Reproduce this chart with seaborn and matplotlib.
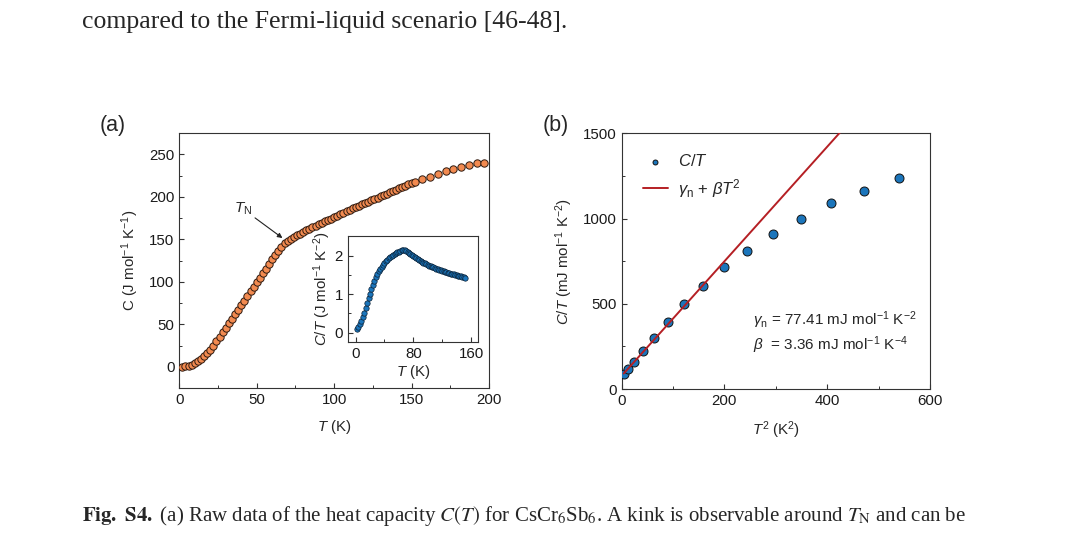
import numpy as np
import pandas as pd
import matplotlib
matplotlib.use("Agg")
import matplotlib.pyplot as plt
import seaborn as sns
from matplotlib.ticker import MultipleLocator

# ---- datos del panel (a): C(T) ----
t_dense = [2, 4, 6, 8, 10, 12, 14, 16, 18, 20, 22, 24, 26, 28, 30, 32, 34, 36, 38, 40,
           42, 44, 46, 48, 50, 52, 54, 56, 58, 60, 62, 64, 66, 68, 70, 72, 74, 76, 78, 80,
           82, 84, 86, 88, 90, 92, 94, 96, 98, 100, 102, 104, 106, 108, 110, 112, 114, 116,
           118, 120, 122, 124, 126, 128, 130, 132, 134, 136, 138, 140, 142, 144, 146, 148,
           150, 152]
c_dense = [0.2, 0.6, 1.3, 2.4, 4.0, 6.2, 9.0, 12.3, 16.0, 20.3, 25.0, 30.0, 35.2, 40.4,
           45.7, 51.0, 56.3, 61.7, 67.1, 72.5, 77.9, 83.3, 88.7, 94.1, 99.5, 104.9, 110.3,
           115.7, 121.1, 126.5, 131.8, 136.8, 141.4, 145.3, 148.3, 150.5, 152.6, 154.6,
           156.6, 158.6, 160.5, 162.3, 164.1, 165.9, 167.7, 169.4, 171.1, 172.8, 174.5,
           176.2, 177.9, 179.6, 181.3, 183.0, 184.7, 186.4, 188.0, 189.6, 191.2, 192.8,
           194.4, 196.0, 197.6, 199.2, 200.8, 202.4, 204.0, 205.6, 207.2, 208.7, 210.2,
           211.7, 213.2, 214.7, 216.2, 217.6]
t_sparse = [157, 162, 167, 172, 177, 182, 187, 192, 197]
c_sparse = [221.0, 224.0, 227.0, 230.0, 232.6, 235.2, 238.0, 239.8, 240.5]

# ---- datos del panel (b): C/T vs T^2 ----
t2_b = [4.5, 11.6, 24.5, 42, 63.5, 90.8, 121.9, 158.2, 199, 244.5, 293.8, 348.4, 407.4, 471, 539]
ct_b = [86, 115, 160, 223, 297, 391, 497, 604, 714, 808, 909, 999, 1089, 1161, 1240]
gamma_n = 77.41   # mJ mol-1 K-2
beta = 3.36       # mJ mol-1 K-4
t2_fit = [4, 430]

df_a = pd.DataFrame({"T": t_dense + t_sparse, "C": c_dense + c_sparse})
df_in = pd.DataFrame({"T": t_dense, "CT": np.array(c_dense) / np.array(t_dense)})
df_b = pd.DataFrame({"T2": t2_b, "CT": ct_b})
df_fit = pd.DataFrame({"T2": t2_fit, "CT": [gamma_n + beta * x for x in t2_fit]})

# ---- estilo ----
sns.set_style("ticks")
plt.rcParams["font.family"] = ["Liberation Sans", "DejaVu Sans"]
plt.rcParams["mathtext.fontset"] = "custom"
plt.rcParams["mathtext.rm"] = "Liberation Sans"
plt.rcParams["mathtext.it"] = "Liberation Sans:italic"
plt.rcParams["mathtext.bf"] = "Liberation Sans:bold"
plt.rcParams["axes.edgecolor"] = "#333333"
plt.rcParams["axes.linewidth"] = 0.8
for eje in ("xtick", "ytick"):
    plt.rcParams[f"{eje}.direction"] = "in"
    plt.rcParams[f"{eje}.major.size"] = 3.5
    plt.rcParams[f"{eje}.minor.size"] = 2.2
    plt.rcParams[f"{eje}.major.width"] = 0.8
    plt.rcParams[f"{eje}.minor.width"] = 0.7
    plt.rcParams[f"{eje}.color"] = "#333333"
    plt.rcParams[f"{eje}.labelcolor"] = "#1a1a1a"
    plt.rcParams[f"{eje}.labelsize"] = 10.8

naranja = "#F28A50"
azul = "#1B75BB"
rojo = "#B51F24"
fs_label = 10.8

fig = plt.figure(figsize=(10.8, 5.48), dpi=100)

# texto de la página
fig.text(82 / 1080, 1 - 22 / 548, "compared to the Fermi-liquid scenario [46-48].",
         family="Liberation Serif", fontsize=18.5, va="center", ha="left")
fig.text(82 / 1080, 1 - 516 / 548,
         r"$\mathbf{Fig.}$ $\mathbf{S4.}$ (a) Raw data of the heat capacity $C(T)$ for "
         r"CsCr$_6$Sb$_6$. A kink is observable around $T_\mathrm{N}$ and can be",
         family="Liberation Serif", math_fontfamily="stix", fontsize=15,
         va="center", ha="left")

# ---- panel (a) ----
ax1 = fig.add_axes([0.166, 0.292, 0.2868, 0.4648])
sns.scatterplot(data=df_a, x="T", y="C", ax=ax1, s=28, color=naranja,
                edgecolor="#2e1a10", linewidth=0.7, zorder=3)
ax1.set_xlim(0, 200)
ax1.set_ylim(-25, 275)
ax1.xaxis.set_major_locator(MultipleLocator(50))
ax1.xaxis.set_minor_locator(MultipleLocator(25))
ax1.yaxis.set_minor_locator(MultipleLocator(25))
ax1.set_yticks([0, 50, 100, 150, 200, 250])
ax1.set_xlabel(r"$T$ (K)", fontsize=fs_label, labelpad=8)
ax1.set_ylabel(r"C (J mol$^{-1}$ K$^{-1}$)", fontsize=fs_label, labelpad=6)
ax1.annotate(r"$T_\mathrm{N}$", xy=(66.6, 151.6), xytext=(46.8, 176.4),
             arrowprops=dict(arrowstyle="-|>", color="#222222", lw=0.8,
                             mutation_scale=7, shrinkA=0, shrinkB=0),
             fontsize=11, ha="right", va="bottom")
fig.text(113 / 1080, 1 - 125 / 548, "(a)", fontsize=15.5, ha="center", va="center")

# inset
ax_in = fig.add_axes([0.3219, 0.3754, 0.1209, 0.1945])
sns.scatterplot(data=df_in, x="T", y="CT", ax=ax_in, s=15, color=azul,
                edgecolor="#0a1f33", linewidth=0.5, zorder=3)
ax_in.set_xlim(-11, 170)
ax_in.set_ylim(-0.25, 2.52)
ax_in.xaxis.set_major_locator(MultipleLocator(80))
ax_in.xaxis.set_minor_locator(MultipleLocator(40))
ax_in.yaxis.set_major_locator(MultipleLocator(1))
ax_in.yaxis.set_minor_locator(MultipleLocator(0.5))
ax_in.set_xlabel(r"$T$ (K)", fontsize=fs_label, labelpad=1)
ax_in.set_ylabel(r"$C/T$ (J mol$^{-1}$ K$^{-2}$)", fontsize=fs_label, labelpad=1)

# ---- panel (b) ----
ax2 = fig.add_axes([0.5756, 0.2901, 0.2855, 0.4666])
sns.scatterplot(data=df_b, x="T2", y="CT", ax=ax2, s=42, color=azul,
                edgecolor="#111111", linewidth=0.7, zorder=3, label=r"$C/T$")
sns.lineplot(data=df_fit, x="T2", y="CT", ax=ax2, color=rojo, linewidth=1.4,
             zorder=4, label=r"$\gamma_\mathrm{n}$ + $\beta T^2$")
ax2.set_xlim(0, 600)
ax2.set_ylim(0, 1500)
ax2.xaxis.set_major_locator(MultipleLocator(200))
ax2.xaxis.set_minor_locator(MultipleLocator(100))
ax2.yaxis.set_major_locator(MultipleLocator(500))
ax2.yaxis.set_minor_locator(MultipleLocator(250))
ax2.set_xlabel(r"$T^2$ (K$^2$)", fontsize=fs_label, labelpad=8)
ax2.set_ylabel(r"$C/T$ (mJ mol$^{-1}$ K$^{-2}$)", fontsize=fs_label, labelpad=6)
ax2.legend(loc="upper left", bbox_to_anchor=(0.02, 0.98), frameon=False,
           fontsize=12, handlelength=1.5, markerscale=0.55,
           handletextpad=0.6, labelspacing=0.45)
ax2.text(256, 405, r"$\gamma_\mathrm{n}$ = 77.41 mJ mol$^{-1}$ K$^{-2}$",
         fontsize=11, ha="left", va="center")
ax2.text(256, 258, r"$\beta$  = 3.36 mJ mol$^{-1}$ K$^{-4}$",
         fontsize=11, ha="left", va="center")
fig.text(556 / 1080, 1 - 125 / 548, "(b)", fontsize=15.5, ha="center", va="center")

fig.savefig("out.png", dpi=100)
plt.close(fig)
